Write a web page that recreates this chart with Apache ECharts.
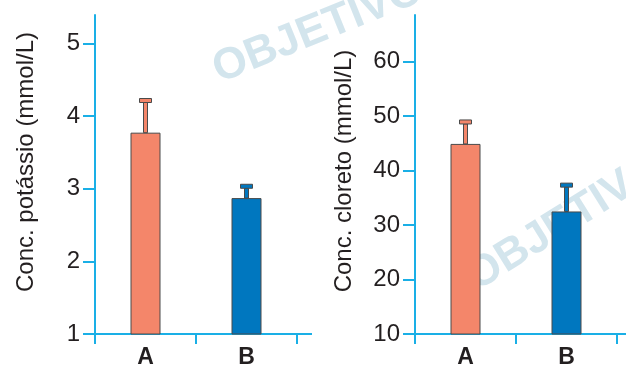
<!DOCTYPE html>
<html><head><meta charset="utf-8">
<script src="https://cdn.jsdelivr.net/npm/echarts@6/dist/echarts.min.js"></script>
<style>html,body{margin:0;padding:0;background:#fff}#c{width:626px;height:367px}</style>
</head><body><div id="c"></div>
<script>
// ---- data ----
const categories = ['A', 'B'];
const potassioMean = [3.77, 2.87];
const potassioHigh = [4.24, 3.06];
const cloretoMean = [44.9, 32.5];
const cloretoHigh = [49.3, 37.7];
const potassioTicks = [1, 2, 3, 4, 5];
const cloretoTicks = [10, 20, 30, 40, 50, 60];
const potassioName = 'Conc. potássio (mmol/L)';
const cloretoName = 'Conc. cloreto (mmol/L)';
const watermarkText = 'OBJETIVO';

// ---- styles ----
const barColors = ['#F4866A', '#0077BF'];
const cyan = '#1AAFE6';
const ink = '#231F20';
const edge = '#4a4a4a';
const FONT = 'Liberation Sans, Arial, Helvetica, sans-serif';

const chart = echarts.init(document.getElementById('c'), null, {renderer: 'canvas'});

function xAxisCfg(gi) {
  return {
    type: 'category', gridIndex: gi, data: categories, boundaryGap: true,
    axisLine: {show: true, lineStyle: {color: cyan, width: 2}},
    axisTick: {show: true, length: 10, interval: 0, alignWithLabel: false, lineStyle: {color: cyan, width: 2}},
    axisLabel: {margin: 12, fontSize: 23, fontWeight: 'bold', color: ink, fontFamily: FONT},
    splitLine: {show: false}
  };
}
function yAxisCfg(gi, min, max, interval, ticks) {
  return {
    type: 'value', gridIndex: gi, min: min, max: max, interval: interval,
    axisLine: {show: true, lineStyle: {color: cyan, width: 2}},
    axisTick: {show: true, length: 12, customValues: ticks, lineStyle: {color: cyan, width: 2}},
    axisLabel: {customValues: ticks, margin: 15, fontSize: 24, color: ink, fontFamily: FONT},
    splitLine: {show: false}
  };
}
function barData(vals) {
  return vals.map((v, i) => ({value: v, itemStyle: {color: barColors[i]}}));
}
function errData(means, highs) {
  return means.map((m, i) => [i, highs[i], m]);
}
function errRender(params, api) {
  const i = api.value(0);
  const top = api.coord([i, api.value(1)]);
  const base = api.coord([i, api.value(2)]);
  const color = barColors[params.dataIndex];
  return {
    type: 'group',
    children: [
      {type: 'rect', shape: {x: top[0] - 2, y: top[1] + 4, width: 4, height: base[1] - top[1] - 4},
        style: {fill: color, stroke: edge, lineWidth: 1}},
      {type: 'rect', shape: {x: top[0] - 6, y: top[1], width: 12, height: 4},
        style: {fill: color, stroke: edge, lineWidth: 1}}
    ]
  };
}

const option = {
  animation: false,
  backgroundColor: '#fff',
  grid: [
    {left: 95, top: 15, width: 202, height: 319, outerBoundsMode: 'none', containLabel: false},
    {left: 415, top: 15, width: 202, height: 319, outerBoundsMode: 'none', containLabel: false}
  ],
  xAxis: [xAxisCfg(0), xAxisCfg(1)],
  yAxis: [
    yAxisCfg(0, 1, 5.389, 1, potassioTicks),
    yAxisCfg(1, 10, 68.57, 10, cloretoTicks)
  ],
  series: [
    {type: 'bar', xAxisIndex: 0, yAxisIndex: 0, barWidth: 30, data: barData(potassioMean),
      itemStyle: {borderColor: edge, borderWidth: 1}, z: 3},
    {type: 'bar', xAxisIndex: 1, yAxisIndex: 1, barWidth: 30, data: barData(cloretoMean),
      itemStyle: {borderColor: edge, borderWidth: 1}, z: 3},
    {type: 'custom', xAxisIndex: 0, yAxisIndex: 0, renderItem: errRender,
      encode: {x: 0, y: 1}, data: errData(potassioMean, potassioHigh), z: 4},
    {type: 'custom', xAxisIndex: 1, yAxisIndex: 1, renderItem: errRender,
      encode: {x: 0, y: 1}, data: errData(cloretoMean, cloretoHigh), z: 4}
  ]
};
chart.setOption(option);

// axis-line extensions and texts
function extension(gi, extra) {
  const a = chart.convertToPixel({xAxisIndex: gi}, categories[0]);
  const b = chart.convertToPixel({xAxisIndex: gi}, categories[1]);
  const right = b + (b - a) / 2;
  const y = chart.convertToPixel({yAxisIndex: gi}, gi === 0 ? potassioTicks[0] : cloretoTicks[0]);
  return {type: 'line', shape: {x1: right - 1, y1: y, x2: right + extra, y2: y},
    style: {stroke: cyan, lineWidth: 2}, z: 5};
}
function wm(x, y, deg) {
  return {type: 'text', x: x, y: y, rotation: deg * Math.PI / 180, z: -10, silent: true,
    style: {text: watermarkText, font: 'bold 44px ' + FONT, fill: '#d3e5ed',
      align: 'center', verticalAlign: 'middle'}};
}
chart.setOption({
  graphic: [
    wm(318, 30, 22),
    wm(565, 222, 32),
    extension(0, 15),
    extension(1, 12),
    {type: 'text', x: 26, y: 162, rotation: Math.PI / 2, z: 5,
      style: {text: potassioName, font: '24px ' + FONT, fill: ink, align: 'center', verticalAlign: 'middle'}},
    {type: 'text', x: 344, y: 171, rotation: Math.PI / 2, z: 5,
      style: {text: cloretoName, font: '24px ' + FONT, fill: ink, align: 'center', verticalAlign: 'middle'}}
  ]
});
</script>
</body></html>
